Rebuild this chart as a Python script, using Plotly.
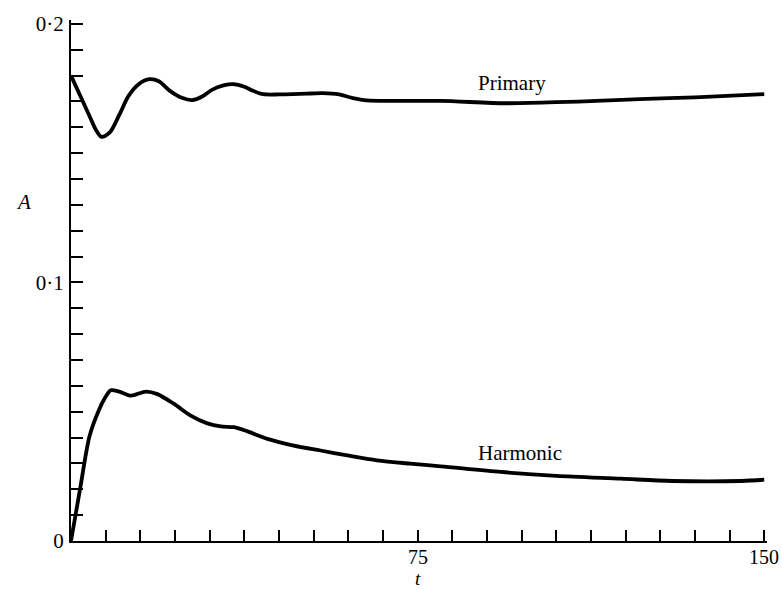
import plotly.graph_objects as go

# ---- data ----
primary_t = [0, 2, 4, 5.4, 6.6, 8.4, 10.5, 12.4, 14.5, 17, 19, 21.4, 24, 26.2, 28.5, 30.5, 33,
             35.1, 37.5, 39.4, 41.6, 45, 48, 51, 54.5, 58, 61, 64, 70, 80, 94, 105, 115, 123,
             135, 150]
primary_a = [0.1800, 0.1722, 0.1644, 0.1590, 0.1563, 0.1580, 0.1650, 0.1720, 0.1765, 0.1786,
             0.1778, 0.1741, 0.1714, 0.1705, 0.1720, 0.1745, 0.1762, 0.1767, 0.1757, 0.1741,
             0.1728, 0.1727, 0.1728, 0.1730, 0.1732, 0.1727, 0.1713, 0.1704, 0.1702, 0.1702,
             0.1693, 0.1697, 0.1703, 0.1709, 0.1716, 0.1728]

harmonic_t = [0, 2, 4, 6, 7.3, 8.6, 10.4, 13, 16.2, 18.7, 22.3, 25.9, 29.5, 32.4, 35.3, 38.2,
              42.5, 48.2, 54, 59.8, 66.2, 73.4, 80, 93, 105, 119, 130, 145, 150]
harmonic_a = [0.0, 0.0205, 0.0405, 0.0505, 0.0552, 0.0583, 0.0578, 0.0562, 0.0578, 0.0568,
              0.0530, 0.0485, 0.0455, 0.0443, 0.0440, 0.0424, 0.0395, 0.0369, 0.0350, 0.0331,
              0.0312, 0.0299, 0.0289, 0.0267, 0.0252, 0.0241, 0.0232, 0.0232, 0.0237]

x_tick_vals = [7.5 * i for i in range(1, 21)]
x_tick_text = ["75" if v == 75 else ("150" if v == 150 else "") for v in x_tick_vals]
y_tick_vals = [i * 0.01 for i in range(21)]
y_tick_text = ["0" if i == 0 else ("0·1" if i == 10 else ("0·2" if i == 20 else "")) for i in range(21)]

series_labels = ["Primary", "Harmonic"]
label_pos = [(95.5, 0.1773), (97.2, 0.0342)]

FONT = "Liberation Serif, Times New Roman, serif"
FS = 21

fig = go.Figure()
fig.add_trace(go.Scatter(x=primary_t, y=primary_a, mode="lines",
                         line=dict(color="black", width=3.8, shape="spline", smoothing=0.8),
                         showlegend=False, hoverinfo="skip"))
fig.add_trace(go.Scatter(x=harmonic_t, y=harmonic_a, mode="lines",
                         line=dict(color="black", width=3.8, shape="spline", smoothing=0.8),
                         showlegend=False, hoverinfo="skip"))

for lab, (tx, ay) in zip(series_labels, label_pos):
    fig.add_annotation(x=tx, y=ay, text=lab, showarrow=False,
                       font=dict(family=FONT, size=FS, color="black"))

# x tick labels placed as annotations under their ticks
for v, txt in zip(x_tick_vals, x_tick_text):
    if txt:
        fig.add_annotation(xref="x", yref="paper", x=v, y=-0.030, text=txt,
                           showarrow=False, yanchor="middle", borderpad=0,
                           font=dict(family=FONT, size=20, color="black"))

fig.add_annotation(xref="paper", yref="paper", x=-0.082, y=0.651, text="<i>A</i>",
                   showarrow=False, font=dict(family=FONT, size=FS, color="black"))
fig.add_annotation(xref="x", yref="paper", x=75, y=-0.0935, text="<i>t</i>",
                   showarrow=False, yanchor="bottom", borderpad=0,
                   font=dict(family=FONT, size=19, color="black"))

fig.update_xaxes(range=[0, 150.6], tickvals=x_tick_vals, showticklabels=False,
                 ticks="inside", ticklen=11, tickwidth=2, tickcolor="black",
                 showline=True, linewidth=2, linecolor="black",
                 showgrid=False, zeroline=False)
fig.update_yaxes(range=[0, 0.2015], tickvals=y_tick_vals, ticktext=y_tick_text,
                 ticks="inside", ticklen=12, tickwidth=2, tickcolor="black",
                 showline=True, linewidth=2, linecolor="black",
                 showgrid=False, zeroline=False, ticklabelstandoff=1,
                 tickfont=dict(family=FONT, size=FS, color="black"))

fig.update_layout(width=782, height=591, margin=dict(l=71, r=15, t=17, b=50),
                  paper_bgcolor="white", plot_bgcolor="white")

fig.write_html("out.html")
